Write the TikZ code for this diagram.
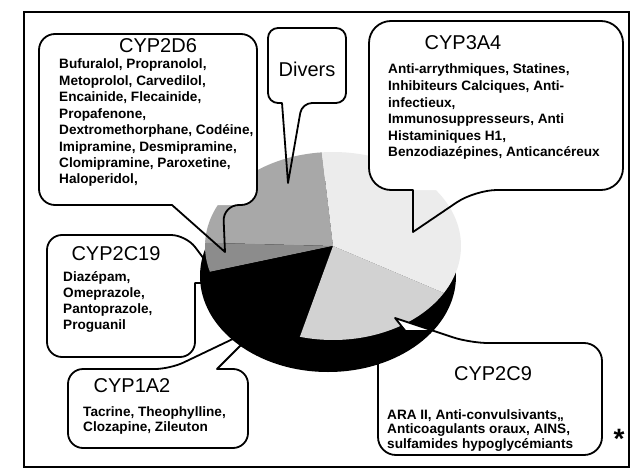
\documentclass[tikz,border=0pt]{standalone}
\usepackage{fontspec}
\setmainfont{Liberation Sans}
\definecolor{pieDivers}{HTML}{A8A8A8}
\definecolor{pieBand}{HTML}{8C8C8C}
\definecolor{pieLow}{HTML}{D2D2D2}
\definecolor{pieHigh}{HTML}{ECECEC}
\begin{document}
\begin{tikzpicture}[x=1pt,y=-1pt,
  frame/.style={draw=black, line width=1.2pt},
  callout/.style={draw=black, line width=1.8pt, line join=round},
  ttl/.style={font=\fontsize{20}{24}\selectfont, anchor=base, inner sep=0pt},
  bodytext/.style={font=\bfseries\fontsize{13.6}{16}\selectfont, anchor=base west, inner sep=0pt},
]
\useasboundingbox (0,0) rectangle (642,476);
\fill[white] (0,0) rectangle (642,476);
\draw[frame] (24,12) rectangle (629,467);

% callouts lying under the pie
\draw[callout, fill=white, rounded corners=15pt] (47,300) -- (47,235) -- (186,235) [sharp corners] -- (222,283) -- (195,283) [rounded corners=15pt] -- (195,357) -- (47,357) -- cycle;
\draw[callout, fill=white, rounded corners=15pt] (68,410) -- (68,369) -- (170,369) [sharp corners] -- (260,326) -- (217,369) [rounded corners=15pt] -- (248,369) -- (248,448) -- (68,448) -- cycle;
\draw[callout, fill=white, rounded corners=18pt] (602,400) -- (602,343) -- (470,343) [sharp corners] -- (395,318) -- (415,343) [rounded corners=18pt] -- (378,343) -- (378,455) -- (602,455) -- cycle;

% pie
\def\pcx{333}\def\pcy{246}\def\prx{128}\def\pry{94}
\fill[black] (328,276) ellipse [x radius=128, y radius=96];
\fill[pieDivers] (\pcx,\pcy) -- plot[domain=95:178, samples=40, variable=\a] ({\pcx+\prx*cos(\a)}, {\pcy-\pry*sin(\a)}) -- cycle;
\fill[pieBand] (\pcx,\pcy) -- plot[domain=178:196, samples=20, variable=\a] ({\pcx+\prx*cos(\a)}, {\pcy-\pry*sin(\a)}) -- cycle;
\fill[black] (\pcx,\pcy) -- plot[domain=196:255, samples=30, variable=\a] ({\pcx+\prx*cos(\a)}, {\pcy-\pry*sin(\a)}) -- cycle;
\fill[pieLow] (\pcx,\pcy) -- plot[domain=255:330, samples=40, variable=\a] ({\pcx+\prx*cos(\a)}, {\pcy-\pry*sin(\a)}) -- cycle;
\fill[pieHigh] (\pcx,\pcy) -- plot[domain=330:455, samples=60, variable=\a] ({\pcx+\prx*cos(\a)}, {\pcy-\pry*sin(\a)}) -- cycle;

% CYP2C9 pointer tip showing over the rim
\begin{scope}
\clip (385,310) rectangle (430,329);
\draw[callout, fill=white] (470,343) -- (395,318) -- (415,343);
\end{scope}

% callouts pointing over the pie
\fill[white, rounded corners=16pt] (39,34) rectangle (257,205);
\draw[callout, rounded corners=16pt] (120,34) -- (257,34) -- (257,205) -- (223,205) [sharp corners] -- (225,252) -- (172,205) [rounded corners=16pt] -- (39,205) -- (39,34) -- cycle;
\fill[white, rounded corners=10pt] (268,28) rectangle (346,103);
\draw[callout, rounded corners=10pt] (300,28) -- (346,28) -- (346,103) -- (302,103) [sharp corners] -- (288,183) -- (282,103) [rounded corners=10pt] -- (268,103) -- (268,28) -- cycle;
\fill[white, rounded corners=22pt] (369,21) rectangle (623,190);
\draw[callout, rounded corners=22pt] (500,21) -- (623,21) -- (623,190) -- (475,190) [sharp corners] -- (413,232) -- (413,190) [rounded corners=22pt] -- (369,190) -- (369,21) -- cycle;

% titles
\node[ttl] (t2d6) at (158,53) {CYP2D6};
\node[ttl] (tdiv) at (307,77) {Divers};
\node[ttl] (t3a4) at (463,50) {CYP3A4};
\node[ttl] (t2c19) at (116,260) {CYP2C19};
\node[ttl] (t1a2) at (132,392) {CYP1A2};
\node[ttl] (t2c9) at (493,380) {CYP2C9};
\node[font=\bfseries\fontsize{28}{30}\selectfont, anchor=base, inner sep=0pt] (star) at (619,448) {*};

% body texts
\foreach \t [count=\i from 0] in {{Bufuralol, Propranolol,},{Metoprolol, Carvedilol,},{Encainide, Flecainide,},{Propafenone,},{Dextromethorphane, Codéine,},{Imipramine, Desmipramine,},{Clomipramine, Paroxetine,},{Haloperidol,}}
  \node[bodytext] (d6l\i) at (59,{69+16.4*\i}) {\t};
\foreach \t [count=\i from 0] in {{Anti-arrythmiques, Statines,},{Inhibiteurs Calciques, Anti-},{infectieux,},{Immunosuppresseurs, Anti},{Histaminiques H1,},{Benzodiazépines, Anticancéreux}}
  \node[bodytext] (a4l\i) at (388,{74+16.6*\i}) {\t};
\foreach \t [count=\i from 0] in {{Diazépam,},{Omeprazole,},{Pantoprazole,},{Proguanil}}
  \node[bodytext] (c19l\i) at (63,{281+16*\i}) {\t};
\foreach \t [count=\i from 0] in {{Tacrine, Theophylline,},{Clozapine, Zileuton}}
  \node[bodytext] (a2l\i) at (83,{416+15*\i}) {\t};
\foreach \t [count=\i from 0] in {{ARA II, Anti-convulsivants,,},{Anticoagulants oraux, AINS,},{sulfamides hypoglycémiants}}
  \node[bodytext] (c9l\i) at (387,{419+14.5*\i}) {\t};
\end{tikzpicture}
\end{document}
